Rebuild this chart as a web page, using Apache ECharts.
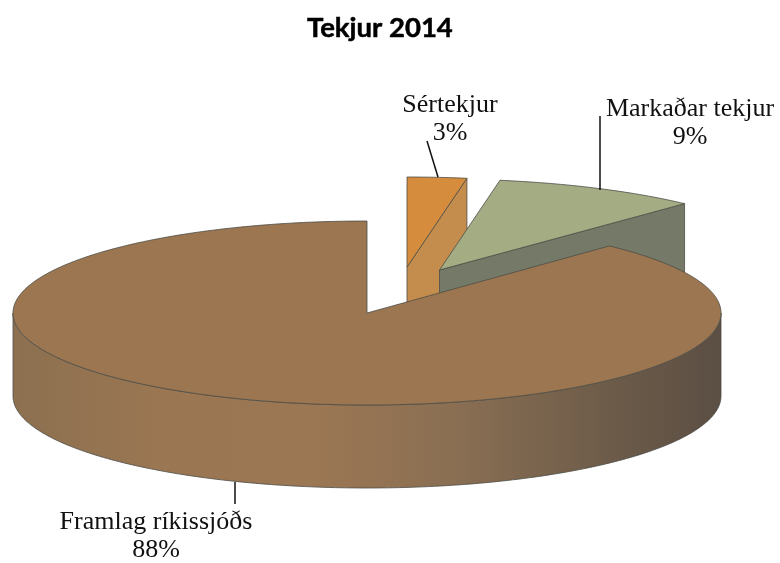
<!DOCTYPE html>
<html><head><meta charset="utf-8">
<style>html,body{margin:0;padding:0;background:#fff}#c{width:780px;height:563px}</style>
<script src="https://cdn.jsdelivr.net/npm/echarts@6/dist/echarts.min.js"></script>
</head><body><div id="c"></div>
<script>
const categories = ['Sértekjur', 'Markaðar tekjur', 'Framlag ríkissjóðs'];
const shares = [2.7, 9.3, 88];
const chartTitle = 'Tekjur 2014';

const topColors = ['#d68c3d', '#a3ac83', '#9b7650'];
const faceColors = ['#c48d4e', '#757a68', '#9b7650'];
const rimStops = [[0, '#8c7050'], [0.2, '#9a7652'], [0.42, '#9c7753'], [0.62, '#8a6f53'], [0.85, '#6c5b49'], [1, '#5b4e43']];
const layout = [
  {cx: 407, cy: 267, rx: 355, ry: 90, depth: 83, label: [450, 119.5], leader: [[427, 141], [438, 177]]},
  {cx: 439.5, cy: 270, rx: 358, ry: 91, depth: 83, label: [690, 123], leader: [[600, 116], [600, 190]]},
  {cx: 367, cy: 313, rx: 354, ry: 92, depth: 83, label: [156, 536], leader: [[235, 482], [235, 504]]}
];
const total = shares.reduce((a, b) => a + b, 0);
const edge = {stroke: '#4c4c46', lineWidth: 0.8};

function pt(g, t, dy) {
  return [g.cx + g.rx * Math.sin(t), g.cy - g.ry * Math.cos(t) + (dy || 0)];
}
function arc(g, a, b, dy) {
  const n = Math.max(2, Math.ceil(Math.abs(b - a) * 60)), r = [];
  for (let i = 0; i <= n; i++) r.push(pt(g, a + (b - a) * i / n, dy));
  return r;
}
function renderItem(params, api) {
  const i = params.dataIndex, g = layout[i];
  let before = 0;
  for (let k = 0; k < i; k++) before += shares[k];
  const a = before / total * 2 * Math.PI;
  const b = (before + api.value(0)) / total * 2 * Math.PI;
  const kids = [];
  const apex = [g.cx, g.cy];
  // cut face at the slice end, visible when it turns towards the viewer
  if (b < Math.PI) {
    const e = pt(g, b);
    kids.push({type: 'polygon', shape: {points: [apex, e, [e[0], e[1] + g.depth], [g.cx, g.cy + g.depth]]},
      style: Object.assign({fill: faceColors[i]}, edge)});
  }
  // outer rim, front half only
  const r0 = Math.max(a, Math.PI / 2), r1 = Math.min(b, 3 * Math.PI / 2);
  if (r1 > r0) {
    const pts = arc(g, r0, r1, 0).concat(arc(g, r1, r0, g.depth));
    kids.push({type: 'polygon', shape: {points: pts},
      style: Object.assign({fill: {type: 'linear', x: 0, y: 0, x2: 1, y2: 0,
        colorStops: rimStops.map(s => ({offset: s[0], color: s[1]}))}}, edge)});
  }
  kids.push({type: 'polygon', shape: {points: [apex].concat(arc(g, a, b, 0))},
    style: Object.assign({fill: topColors[i]}, edge)});
  kids.push({type: 'polyline', shape: {points: g.leader}, style: {fill: null, stroke: '#111', lineWidth: 1.5}});
  kids.push({type: 'text', x: g.label[0], y: g.label[1],
    style: {text: categories[i] + '\n' + Math.round(api.value(0) / total * 100) + '%',
      fontFamily: 'Liberation Serif', fontSize: 26, lineHeight: 28, fill: '#111', align: 'center', verticalAlign: 'middle'}});
  return {type: 'group', children: kids};
}
const chart = echarts.init(document.getElementById('c'));
chart.setOption({
  animation: false,
  backgroundColor: '#fff',
  title: {text: chartTitle, left: 302, top: 9,
    textStyle: {fontFamily: 'Lato', fontWeight: 'bold', fontSize: 27.5, color: '#000', textBorderColor: '#000', textBorderWidth: 0.5}},
  series: [{type: 'custom', coordinateSystem: 'none', renderItem: renderItem, silent: true,
    data: shares.map((v, i) => ({name: categories[i], value: [v]}))}]
});
</script></body></html>
